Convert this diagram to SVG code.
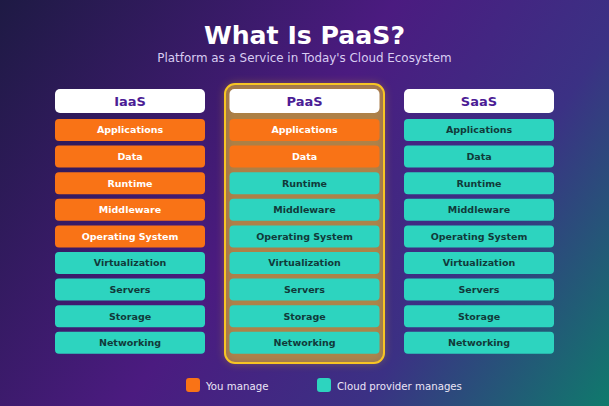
<svg xmlns="http://www.w3.org/2000/svg" width="609" height="406" viewBox="0 0 609 406">
<defs>
<linearGradient id="bg" x1="0" y1="0" x2="609" y2="406" gradientUnits="userSpaceOnUse">
<stop offset="0" stop-color="#1e1a44"/>
<stop offset="0.45" stop-color="#4b1b80"/>
<stop offset="0.72" stop-color="#3b3184"/>
<stop offset="1" stop-color="#0f7a6c"/>
</linearGradient>
<filter id="glow" x="-20%" y="-20%" width="140%" height="140%">
<feGaussianBlur stdDeviation="5"/>
</filter>
<style>
.t{font-family:"DejaVu Sans",sans-serif;text-anchor:middle}
.title{font-size:25.2px;font-weight:bold;fill:#ffffff}
.sub{font-size:11.9px;fill:#d9cdf2}
.hd rect{fill:#ffffff}
.hd text{font-size:13px;font-weight:bold;fill:#4c1d95}
.o rect{fill:#f97316}
.o text{fill:#ffffff}
.c rect{fill:#2dd4bf}
.c text{fill:#113a3a}
.row text{font-size:9.5px;font-weight:bold}
.leg{font-family:"DejaVu Sans",sans-serif;font-size:10.2px;fill:#ece6f7}
</style>
</defs>
<rect width="609" height="406" fill="url(#bg)"/>
<text class="t title" x="304.5" y="44">What Is PaaS?</text>
<text class="t sub" x="304.5" y="62">Platform as a Service in Today's Cloud Ecosystem</text>

<g id="paas-highlight">
<rect x="225" y="84" width="159" height="279" rx="10" fill="#f5c518" opacity="0.35" filter="url(#glow)"/>
<rect x="225" y="84" width="159" height="279" rx="10" fill="#c99c3c" fill-opacity="0.6" stroke="#f7c524" stroke-width="2"/>
</g>

<g id="iaas">
<g class="hd"><rect x="55" y="89" width="150" height="24" rx="5"/><text class="t" x="130" y="105.5">IaaS</text></g>
<g class="row o"><rect x="55" y="119" width="150" height="22" rx="4"/><text class="t" x="130" y="133.4">Applications</text></g>
<g class="row o"><rect x="55" y="145.6" width="150" height="22" rx="4"/><text class="t" x="130" y="160">Data</text></g>
<g class="row o"><rect x="55" y="172.2" width="150" height="22" rx="4"/><text class="t" x="130" y="186.6">Runtime</text></g>
<g class="row o"><rect x="55" y="198.8" width="150" height="22" rx="4"/><text class="t" x="130" y="213.2">Middleware</text></g>
<g class="row o"><rect x="55" y="225.4" width="150" height="22" rx="4"/><text class="t" x="130" y="239.8">Operating System</text></g>
<g class="row c"><rect x="55" y="252" width="150" height="22" rx="4"/><text class="t" x="130" y="266.4">Virtualization</text></g>
<g class="row c"><rect x="55" y="278.6" width="150" height="22" rx="4"/><text class="t" x="130" y="293">Servers</text></g>
<g class="row c"><rect x="55" y="305.2" width="150" height="22" rx="4"/><text class="t" x="130" y="319.6">Storage</text></g>
<g class="row c"><rect x="55" y="331.8" width="150" height="22" rx="4"/><text class="t" x="130" y="346.2">Networking</text></g>
</g>

<g id="paas">
<g class="hd"><rect x="229.5" y="89" width="150" height="24" rx="5"/><text class="t" x="304.5" y="105.5">PaaS</text></g>
<g class="row o"><rect x="229.5" y="119" width="150" height="22" rx="4"/><text class="t" x="304.5" y="133.4">Applications</text></g>
<g class="row o"><rect x="229.5" y="145.6" width="150" height="22" rx="4"/><text class="t" x="304.5" y="160">Data</text></g>
<g class="row c"><rect x="229.5" y="172.2" width="150" height="22" rx="4"/><text class="t" x="304.5" y="186.6">Runtime</text></g>
<g class="row c"><rect x="229.5" y="198.8" width="150" height="22" rx="4"/><text class="t" x="304.5" y="213.2">Middleware</text></g>
<g class="row c"><rect x="229.5" y="225.4" width="150" height="22" rx="4"/><text class="t" x="304.5" y="239.8">Operating System</text></g>
<g class="row c"><rect x="229.5" y="252" width="150" height="22" rx="4"/><text class="t" x="304.5" y="266.4">Virtualization</text></g>
<g class="row c"><rect x="229.5" y="278.6" width="150" height="22" rx="4"/><text class="t" x="304.5" y="293">Servers</text></g>
<g class="row c"><rect x="229.5" y="305.2" width="150" height="22" rx="4"/><text class="t" x="304.5" y="319.6">Storage</text></g>
<g class="row c"><rect x="229.5" y="331.8" width="150" height="22" rx="4"/><text class="t" x="304.5" y="346.2">Networking</text></g>
</g>

<g id="saas">
<g class="hd"><rect x="404" y="89" width="150" height="24" rx="5"/><text class="t" x="479" y="105.5">SaaS</text></g>
<g class="row c"><rect x="404" y="119" width="150" height="22" rx="4"/><text class="t" x="479" y="133.4">Applications</text></g>
<g class="row c"><rect x="404" y="145.6" width="150" height="22" rx="4"/><text class="t" x="479" y="160">Data</text></g>
<g class="row c"><rect x="404" y="172.2" width="150" height="22" rx="4"/><text class="t" x="479" y="186.6">Runtime</text></g>
<g class="row c"><rect x="404" y="198.8" width="150" height="22" rx="4"/><text class="t" x="479" y="213.2">Middleware</text></g>
<g class="row c"><rect x="404" y="225.4" width="150" height="22" rx="4"/><text class="t" x="479" y="239.8">Operating System</text></g>
<g class="row c"><rect x="404" y="252" width="150" height="22" rx="4"/><text class="t" x="479" y="266.4">Virtualization</text></g>
<g class="row c"><rect x="404" y="278.6" width="150" height="22" rx="4"/><text class="t" x="479" y="293">Servers</text></g>
<g class="row c"><rect x="404" y="305.2" width="150" height="22" rx="4"/><text class="t" x="479" y="319.6">Storage</text></g>
<g class="row c"><rect x="404" y="331.8" width="150" height="22" rx="4"/><text class="t" x="479" y="346.2">Networking</text></g>
</g>

<g id="legend">
<rect x="186" y="378" width="14" height="14" rx="3" fill="#f97316"/>
<text class="leg" x="206" y="389.5">You manage</text>
<rect x="317" y="378" width="14" height="14" rx="3" fill="#2dd4bf"/>
<text class="leg" x="337" y="389.5">Cloud provider manages</text>
</g>
<g id="connectors"/>
</svg>
